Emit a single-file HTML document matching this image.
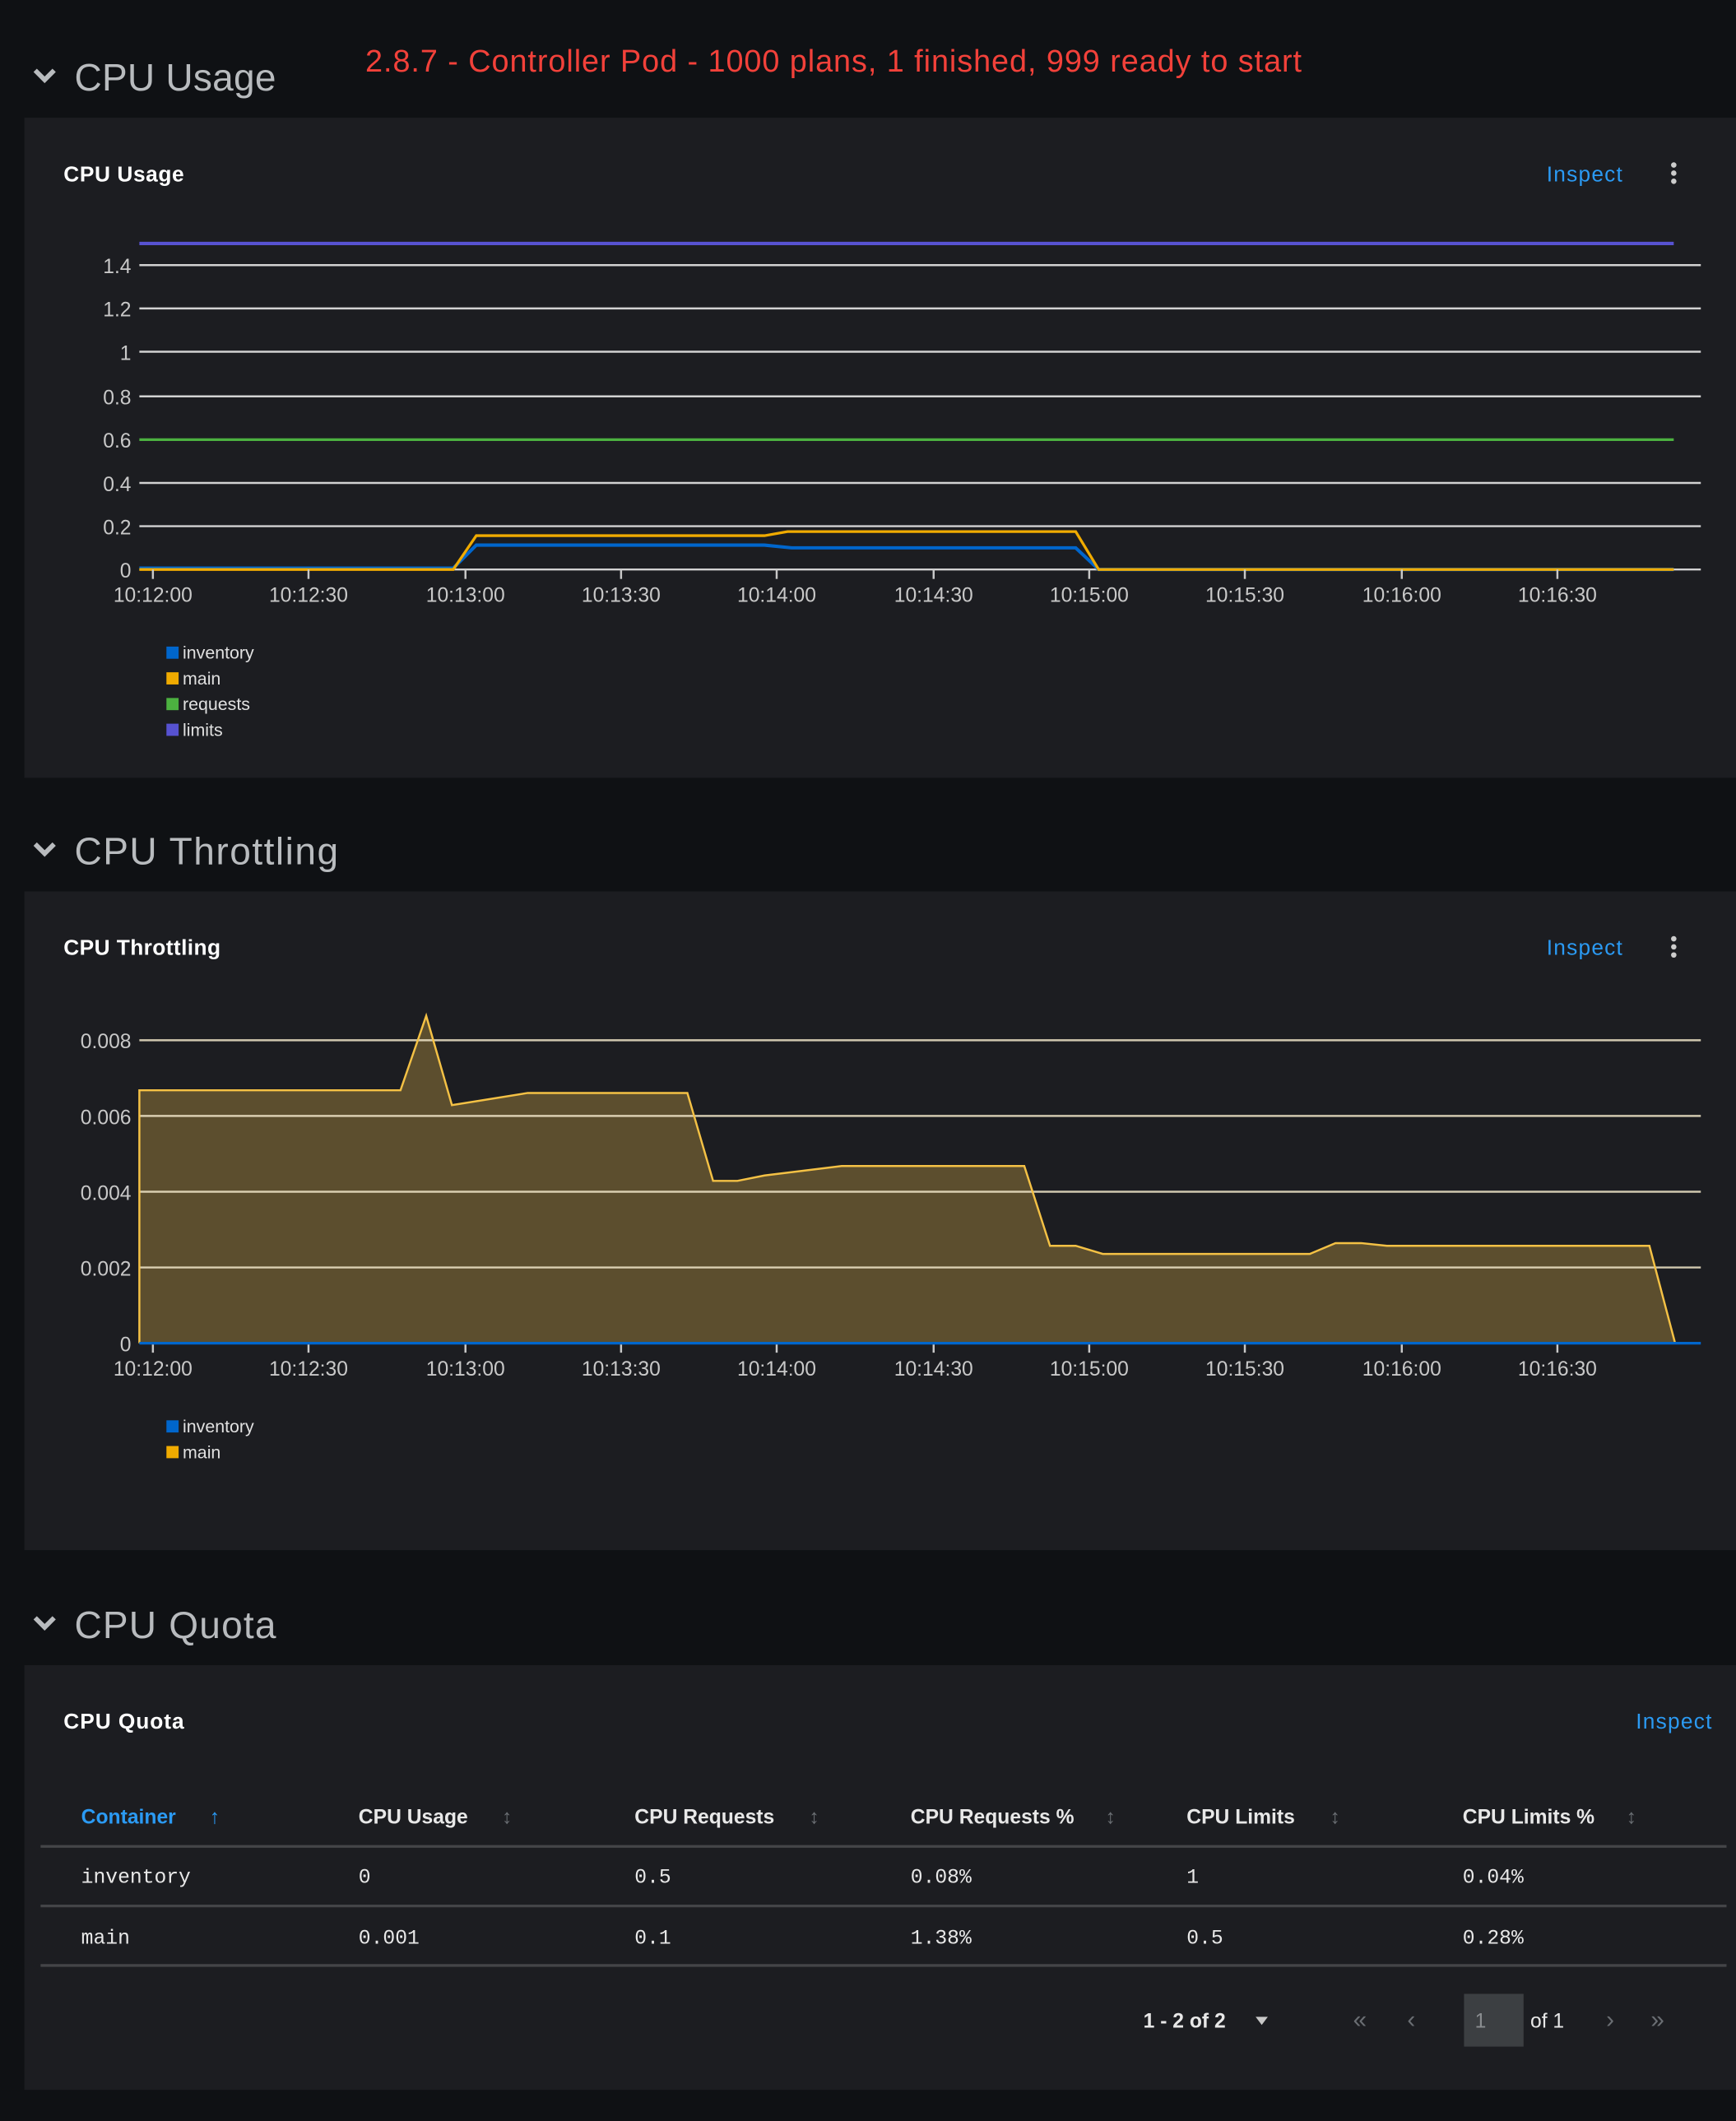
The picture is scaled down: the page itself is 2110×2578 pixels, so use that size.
<!DOCTYPE html>
<html><head><meta charset="utf-8"><style>
html,body{margin:0;padding:0;background:#0f1114;}
svg{display:block}
text{font-family:"Liberation Sans",sans-serif}
text.m{font-family:"Liberation Mono",monospace}
</style></head><body>
<svg width="2110" height="2578" viewBox="0 0 1283 1568" preserveAspectRatio="none" xmlns="http://www.w3.org/2000/svg">
<rect width="1283" height="1568" fill="#0f1114"/>
<!-- header 1 -->
<path d="M26 52 L33 59 L40 52" stroke="#b8bbbe" stroke-width="3.5" fill="none"/>
<text x="55" y="67" font-size="28" fill="#b8bbbe" textLength="149">CPU Usage</text>
<text x="270" y="53" font-size="23" fill="#f2413a" textLength="692">2.8.7 - Controller Pod - 1000 plans, 1 finished, 999 ready to start</text>
<rect x="18" y="87" width="1265" height="488" fill="#1c1d21"/>
<text x="47" y="134" font-size="16" fill="#fff" font-weight="bold" textLength="89">CPU Usage</text>
<text x="1143" y="134" font-size="16" fill="#2b9af3" textLength="56">Inspect</text>
<circle cx="1237" cy="122" r="2" fill="#ccc"/><circle cx="1237" cy="128" r="2" fill="#ccc"/><circle cx="1237" cy="134" r="2" fill="#ccc"/>
<g stroke="#d2d2d2" stroke-width="1.5">
<line x1="103" y1="196" x2="1257" y2="196"/><line x1="103" y1="228" x2="1257" y2="228"/><line x1="103" y1="260" x2="1257" y2="260"/><line x1="103" y1="293" x2="1257" y2="293"/><line x1="103" y1="357" x2="1257" y2="357"/><line x1="103" y1="389" x2="1257" y2="389"/><line x1="103" y1="421" x2="1257" y2="421"/>
</g>
<g font-size="15" fill="#c8c8c8" text-anchor="end">
<text x="97" y="202">1.4</text><text x="97" y="234">1.2</text><text x="97" y="266">1</text><text x="97" y="299">0.8</text><text x="97" y="331">0.6</text><text x="97" y="363">0.4</text><text x="97" y="395">0.2</text><text x="97" y="427">0</text>
</g>
<line x1="103" y1="180" x2="1237" y2="180" stroke="#5752d1" stroke-width="2.5"/>
<line x1="103" y1="325" x2="1237" y2="325" stroke="#4cb140" stroke-width="2"/>
<polyline points="103,420 335,420 352,403 565,403 585,405 795,405 812,421 1237,421" fill="none" stroke="#0066cc" stroke-width="2.5"/>
<polyline points="103,421 335,421 352,396 565,396 582,393 795,393 812,421 1237,421" fill="none" stroke="#f0ab00" stroke-width="2"/>
<g stroke="#c8c8c8" stroke-width="1.5"><line x1="113" y1="421" x2="113" y2="428"/><line x1="228" y1="421" x2="228" y2="428"/><line x1="344" y1="421" x2="344" y2="428"/><line x1="459" y1="421" x2="459" y2="428"/><line x1="574" y1="421" x2="574" y2="428"/><line x1="690" y1="421" x2="690" y2="428"/><line x1="805" y1="421" x2="805" y2="428"/><line x1="920" y1="421" x2="920" y2="428"/><line x1="1036" y1="421" x2="1036" y2="428"/><line x1="1151" y1="421" x2="1151" y2="428"/></g>
<g font-size="15" fill="#c8c8c8" text-anchor="middle">
<text x="113" y="445">10:12:00</text><text x="228" y="445">10:12:30</text><text x="344" y="445">10:13:00</text><text x="459" y="445">10:13:30</text><text x="574" y="445">10:14:00</text><text x="690" y="445">10:14:30</text><text x="805" y="445">10:15:00</text><text x="920" y="445">10:15:30</text><text x="1036" y="445">10:16:00</text><text x="1151" y="445">10:16:30</text>
</g>
<g font-size="13" fill="#e0e0e0">
<rect x="123" y="478" width="9" height="9" fill="#0066cc"/><text x="135" y="487">inventory</text>
<rect x="123" y="497" width="9" height="9" fill="#f0ab00"/><text x="135" y="506">main</text>
<rect x="123" y="516" width="9" height="9" fill="#4cb140"/><text x="135" y="525">requests</text>
<rect x="123" y="535" width="9" height="9" fill="#5752d1"/><text x="135" y="544">limits</text>
</g>
<!-- header 2 -->
<path d="M26 624 L33 631 L40 624" stroke="#b8bbbe" stroke-width="3.5" fill="none"/>
<text x="55" y="639" font-size="28" fill="#b8bbbe" textLength="195">CPU Throttling</text>
<rect x="18" y="659" width="1265" height="487" fill="#1c1d21"/>
<text x="47" y="706" font-size="16" fill="#fff" font-weight="bold" textLength="116">CPU Throttling</text>
<text x="1143" y="706" font-size="16" fill="#2b9af3" textLength="56">Inspect</text>
<circle cx="1237" cy="694" r="2" fill="#ccc"/><circle cx="1237" cy="700" r="2" fill="#ccc"/><circle cx="1237" cy="706" r="2" fill="#ccc"/>
<polygon points="103,993 103,806 296,806 315,751 334,817 390,808 508,808 527,873 545,873 565,869 622,862 757,862 776,921 795,921 815,927 968,927 987,919 1006,919 1025,921 1219,921 1238,993" fill="#5c4e2e"/>
<g stroke="#f0e6c8" stroke-width="1.5" opacity="0.85">
<line x1="103" y1="769" x2="1257" y2="769"/><line x1="103" y1="825" x2="1257" y2="825"/><line x1="103" y1="881" x2="1257" y2="881"/><line x1="103" y1="937" x2="1257" y2="937"/>
</g>
<polyline points="103,993 103,806 296,806 315,751 334,817 390,808 508,808 527,873 545,873 565,869 622,862 757,862 776,921 795,921 815,927 968,927 987,919 1006,919 1025,921 1219,921 1238,993" fill="none" stroke="#f4c145" stroke-width="1.5"/>
<line x1="103" y1="993" x2="1257" y2="993" stroke="#0066cc" stroke-width="2"/>
<g font-size="15" fill="#c8c8c8" text-anchor="end">
<text x="97" y="775">0.008</text><text x="97" y="831">0.006</text><text x="97" y="887">0.004</text><text x="97" y="943">0.002</text><text x="97" y="999">0</text>
</g>
<g stroke="#c8c8c8" stroke-width="1.5"><line x1="113" y1="994" x2="113" y2="1000"/><line x1="228" y1="994" x2="228" y2="1000"/><line x1="344" y1="994" x2="344" y2="1000"/><line x1="459" y1="994" x2="459" y2="1000"/><line x1="574" y1="994" x2="574" y2="1000"/><line x1="690" y1="994" x2="690" y2="1000"/><line x1="805" y1="994" x2="805" y2="1000"/><line x1="920" y1="994" x2="920" y2="1000"/><line x1="1036" y1="994" x2="1036" y2="1000"/><line x1="1151" y1="994" x2="1151" y2="1000"/></g>
<g font-size="15" fill="#c8c8c8" text-anchor="middle">
<text x="113" y="1017">10:12:00</text><text x="228" y="1017">10:12:30</text><text x="344" y="1017">10:13:00</text><text x="459" y="1017">10:13:30</text><text x="574" y="1017">10:14:00</text><text x="690" y="1017">10:14:30</text><text x="805" y="1017">10:15:00</text><text x="920" y="1017">10:15:30</text><text x="1036" y="1017">10:16:00</text><text x="1151" y="1017">10:16:30</text>
</g>
<g font-size="13" fill="#e0e0e0">
<rect x="123" y="1050" width="9" height="9" fill="#0066cc"/><text x="135" y="1059">inventory</text>
<rect x="123" y="1069" width="9" height="9" fill="#f0ab00"/><text x="135" y="1078">main</text>
</g>
<!-- header 3 -->
<path d="M26 1196 L33 1203 L40 1196" stroke="#b8bbbe" stroke-width="3.5" fill="none"/>
<text x="55" y="1211" font-size="28" fill="#b8bbbe" textLength="149">CPU Quota</text>
<rect x="18" y="1231" width="1265" height="314" fill="#1c1d21"/>
<text x="47" y="1278" font-size="16" fill="#fff" font-weight="bold" textLength="89">CPU Quota</text>
<text x="1209" y="1278" font-size="16" fill="#2b9af3" textLength="56">Inspect</text>
<g font-size="15" font-weight="bold">
<text x="60" y="1348" fill="#2b9af3">Container</text>
<text x="155" y="1348" fill="#2b9af3">↑</text>
<g fill="#e8e8e8"><text x="265" y="1348">CPU Usage</text><text x="469" y="1348">CPU Requests</text><text x="673" y="1348">CPU Requests %</text><text x="877" y="1348">CPU Limits</text><text x="1081" y="1348">CPU Limits %</text></g>
<g fill="#6a6e73"><text x="371" y="1348">↕</text><text x="598" y="1348">↕</text><text x="817" y="1348">↕</text><text x="983" y="1348">↕</text><text x="1202" y="1348">↕</text></g>
</g>
<g stroke="#444548" stroke-width="2"><line x1="30" y1="1365" x2="1276" y2="1365"/><line x1="30" y1="1409" x2="1276" y2="1409"/><line x1="30" y1="1453" x2="1276" y2="1453"/></g>
<g font-size="15" fill="#e8e8e8">
<text class="m" x="60" y="1392">inventory</text><text class="m" x="265" y="1392">0</text><text class="m" x="469" y="1392">0.5</text><text class="m" x="673" y="1392">0.08%</text><text class="m" x="877" y="1392">1</text><text class="m" x="1081" y="1392">0.04%</text>
<text class="m" x="60" y="1437">main</text><text class="m" x="265" y="1437">0.001</text><text class="m" x="469" y="1437">0.1</text><text class="m" x="673" y="1437">1.38%</text><text class="m" x="877" y="1437">0.5</text><text class="m" x="1081" y="1437">0.28%</text>
</g>
<text x="845" y="1499" font-size="15" fill="#e8e8e8" font-weight="bold">1 - 2 of 2</text>
<path d="M928 1491 L937 1491 L932.5 1497 Z" fill="#c8c8c8"/>
<g font-size="18" fill="#6a6e73"><text x="1000" y="1499">«</text><text x="1040" y="1499">‹</text><text x="1187" y="1499">›</text><text x="1220" y="1499">»</text></g>
<rect x="1082" y="1474" width="44" height="39" fill="#3c3f42"/>
<text x="1090" y="1499" font-size="15" fill="#8a8d90">1</text>
<text x="1131" y="1499" font-size="15" fill="#e8e8e8">of 1</text>
</svg>
</body></html>
